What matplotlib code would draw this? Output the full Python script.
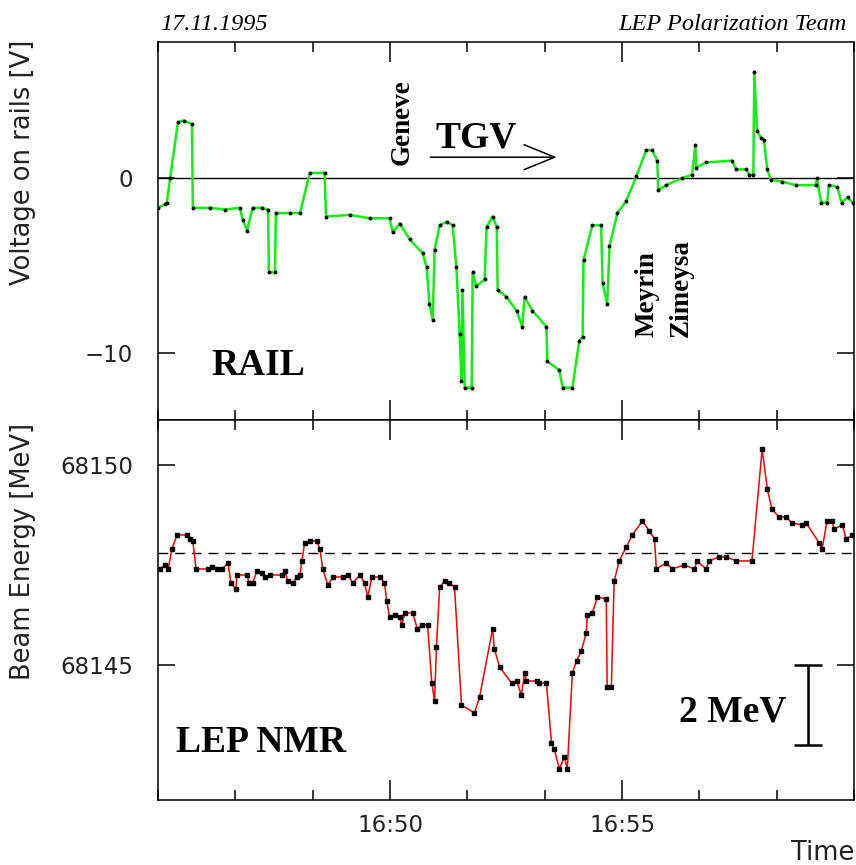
import matplotlib.pyplot as plt
from matplotlib.ticker import MultipleLocator, FixedLocator, NullLocator

# time in minutes after 16:45
rail_t = [0.00, 0.15, 0.19, 0.26, 0.43, 0.55, 0.73, 0.75, 1.12, 1.44, 1.76, 1.83, 1.92, 2.04,
          2.24, 2.37, 2.39, 2.52, 2.54, 2.84, 3.06, 3.27, 3.59, 3.62, 4.13, 4.56, 4.99, 5.06,
          5.21, 5.42, 5.70, 5.79, 5.85, 5.92, 5.96, 6.07, 6.22, 6.35, 6.43, 6.50, 6.54, 6.56,
          6.61, 6.76, 6.78, 6.86, 7.04, 7.08, 7.21, 7.30, 7.32, 7.51, 7.73, 7.85, 7.90, 8.07,
          8.37, 8.39, 8.65, 8.72, 8.93, 9.08, 9.15, 9.17, 9.36, 9.55, 9.58, 9.68, 9.73, 9.90,
          10.09, 10.31, 10.52, 10.65, 10.76, 10.78, 10.95, 11.30, 11.51, 11.58, 11.60, 11.81,
          12.37, 12.46, 12.68, 12.74, 12.83, 12.85, 12.91, 13.00, 13.06, 13.13, 13.21, 13.45,
          13.75, 14.18, 14.20, 14.29, 14.42, 14.46, 14.64, 14.73, 14.86, 14.97]
rail_v = [-1.7, -1.5, -1.4, 0.0, 3.2, 3.3, 3.1, -1.7, -1.7, -1.8, -1.7, -2.4, -3.0, -1.7,
          -1.7, -1.8, -5.4, -5.4, -2.0, -2.0, -2.0, 0.3, 0.3, -2.2, -2.1, -2.3, -2.3, -3.1,
          -2.6, -3.5, -4.3, -5.1, -7.2, -8.1, -4.1, -2.7, -2.5, -2.7, -5.1, -8.9, -11.6, -6.4,
          -12.0, -12.0, -5.4, -6.2, -5.8, -2.8, -2.2, -2.8, -6.4, -6.8, -7.6, -8.5, -6.8, -7.6,
          -8.5, -10.5, -11.0, -12.0, -12.0, -9.3, -9.1, -4.7, -2.7, -2.7, -6.0, -7.2, -3.9, -2.0,
          -1.3, 0.1, 1.6, 1.6, 1.0, -0.7, -0.4, 0.0, 0.2, 1.9, 0.6, 0.9,
          1.0, 0.5, 0.5, 0.2, 0.2, 6.1, 2.7, 2.3, 2.2, 0.5, -0.1, -0.2,
          -0.4, -0.4, 0.0, -1.4, -1.4, -0.4, -0.5, -1.4, -1.1, -1.4]

nmr_t = [0.04, 0.15, 0.22, 0.30, 0.41, 0.62, 0.69, 0.75, 0.82, 1.08, 1.16, 1.27, 1.38, 1.51,
         1.57, 1.68, 1.70, 1.92, 1.96, 2.04, 2.13, 2.24, 2.30, 2.41, 2.67, 2.73, 2.80, 2.91,
         2.99, 3.06, 3.10, 3.16, 3.27, 3.42, 3.49, 3.55, 3.66, 3.77, 3.98, 4.09, 4.20, 4.35,
         4.45, 4.52, 4.61, 4.78, 4.88, 4.93, 4.99, 5.10, 5.21, 5.25, 5.32, 5.49, 5.59, 5.68,
         5.81, 5.90, 5.96, 6.00, 6.07, 6.18, 6.28, 6.39, 6.54, 6.82, 6.93, 7.21, 7.25, 7.36,
         7.62, 7.73, 7.83, 7.90, 7.94, 8.16, 8.22, 8.37, 8.48, 8.54, 8.65, 8.76, 8.82, 8.93,
         9.02, 9.12, 9.23, 9.25, 9.36, 9.47, 9.66, 9.68, 9.77, 9.83, 9.94, 10.09, 10.22, 10.44,
         10.59, 10.70, 10.74, 10.95, 11.08, 11.34, 11.56, 11.62, 11.81, 11.88, 12.09, 12.25,
         12.46, 12.80, 13.02, 13.13, 13.23, 13.38, 13.54, 13.66, 13.88, 13.97, 14.25, 14.31,
         14.42, 14.53, 14.57, 14.75, 14.83, 14.96]
nmr_e = [68147.4, 68147.5, 68147.4, 68147.9, 68148.25, 68148.25, 68148.15, 68148.1, 68147.4,
         68147.4, 68147.45, 68147.4, 68147.4, 68147.55, 68147.05, 68146.9, 68147.25, 68147.25,
         68147.05, 68147.05, 68147.35, 68147.3, 68147.2, 68147.25, 68147.25, 68147.35, 68147.1,
         68147.05, 68147.2, 68147.25, 68147.6, 68148.05, 68148.1, 68148.1, 68147.9, 68147.4,
         68147.0, 68147.2, 68147.2, 68147.25, 68147.05, 68147.25, 68147.05, 68146.7, 68147.2,
         68147.2, 68147.05, 68146.6, 68146.2, 68146.25, 68146.2, 68146.0, 68146.3, 68146.3,
         68145.9, 68146.0, 68146.0, 68144.55, 68144.1, 68145.45, 68146.95, 68147.1, 68147.05,
         68146.95, 68144.0, 68143.8, 68144.2, 68145.9, 68145.4, 68144.95, 68144.55, 68144.6,
         68144.25, 68144.8, 68144.6, 68144.6, 68144.55, 68144.55, 68143.05, 68142.9, 68142.4,
         68142.7, 68142.4, 68144.8, 68145.1, 68145.35, 68145.8, 68146.25, 68146.3, 68146.7,
         68146.65, 68144.45, 68144.45, 68147.1, 68147.6, 68147.95, 68148.25, 68148.6, 68148.35,
         68148.15, 68147.4, 68147.55, 68147.4, 68147.5, 68147.4, 68147.6, 68147.4, 68147.6,
         68147.7, 68147.7, 68147.6, 68147.6, 68150.4, 68149.4, 68148.9, 68148.7, 68148.7,
         68148.55, 68148.5, 68148.55, 68148.05, 68147.9, 68148.6, 68148.6, 68148.4, 68148.5,
         68148.15, 68148.25]

e_ref = 68147.81
time_ticks = [5, 10]
time_labels = ['16:50', '16:55']
rail_ticks = [-10, 0]
nmr_ticks = [68145, 68150]

plt.rcParams['font.family'] = 'DejaVu Sans'
serif = 'Liberation Serif'
grey = '#222222'

fig = plt.figure(figsize=(8.56, 8.65), dpi=100)
ax1 = fig.add_axes([0.1846, 0.5145, 0.8131, 0.4370])
ax2 = fig.add_axes([0.1846, 0.0751, 0.8131, 0.4394])


def style_axis(ax, yticks, ylabels):
    ax.set_xlim(0, 15)
    ax.xaxis.set_major_locator(FixedLocator(time_ticks))
    ax.xaxis.set_minor_locator(MultipleLocator(5 / 3))
    ax.yaxis.set_minor_locator(NullLocator())
    ax.set_yticks(yticks, ylabels)
    ax.tick_params(which='both', direction='in', top=True, right=True, width=1.1,
                   labelsize=16.5, labelcolor=grey)
    ax.tick_params(axis='x', which='major', length=14.5, pad=10)
    ax.tick_params(axis='x', which='minor', length=7.5)
    ax.tick_params(axis='y', which='major', length=12.5, pad=18)
    for s in ax.spines.values():
        s.set_linewidth(1.1)


# RAIL panel
ax1.axhline(0, color='black', lw=1.0, zorder=1)
ax1.plot(rail_t, rail_v, color='#11ee11', lw=1.8, zorder=2)
ax1.plot(rail_t, rail_v, ls='none', marker='o', ms=1.8, color='black', zorder=3)
ax1.set_ylim(-13.85, 7.8)
style_axis(ax1, rail_ticks, ['\u221210', '0'])
ax1.tick_params(axis='x', labelbottom=False)

ax1.text(5.27, 3.2, 'Geneve', family=serif, weight='bold', fontsize=19.5,
         rotation=90, ha='center', va='center')
ax1.annotate('', xy=(8.65, 1.2), xytext=(5.81, 1.2),
             arrowprops=dict(arrowstyle='->,head_length=2.2,head_width=0.9', lw=1.1, color='black'))
ax1.text(5.98, 1.77, 'TGV', family=serif, weight='bold', fontsize=27, va='baseline')
ax1.text(10.54, -9.1, 'Meyrin', family=serif, weight='bold', fontsize=19.5,
         rotation=90, ha='center', va='bottom')
ax1.text(11.28, -9.1, 'Zimeysa', family=serif, weight='bold', fontsize=19.5,
         rotation=90, ha='center', va='bottom')
ax1.text(1.16, -11.28, 'RAIL', family=serif, weight='bold', fontsize=27, va='baseline')

# NMR panel
ax2.axhline(e_ref, color='black', lw=1.0, ls=(0, (7, 5)), zorder=1)
ax2.plot(nmr_t, nmr_e, color='red', lw=1.1, zorder=2)
ax2.plot(nmr_t, nmr_e, ls='none', marker='s', ms=2.6, color='black', zorder=3)
ax2.set_ylim(68141.625, 68151.125)
style_axis(ax2, nmr_ticks, [str(v) for v in nmr_ticks])
ax2.set_xticklabels(time_labels)

ax2.errorbar(14.01, 68144, yerr=1, color='black', lw=1.8, capsize=10, capthick=1.8)
ax2.text(11.23, 68143.58, '2 MeV', family=serif, weight='bold', fontsize=27, va='baseline')
ax2.text(0.39, 68142.83, 'LEP NMR', family=serif, weight='bold', fontsize=27, va='baseline')

# labels and header
fig.text(0.027, 0.954, 'Voltage on rails [V]', rotation=90, ha='center', va='top',
         fontsize=18.5, color=grey)
fig.text(0.027, 0.511, 'Beam Energy [MeV]', rotation=90, ha='center', va='top',
         fontsize=18.5, color=grey)
fig.text(0.998, 0.006, 'Time', ha='right', va='baseline', fontsize=18.5, color=grey)
fig.text(0.187, 0.965, '17.11.1995', family=serif, style='italic', fontsize=17.5)
fig.text(0.9895, 0.965, 'LEP Polarization Team', family=serif, style='italic',
         fontsize=17.5, ha='right')

fig.savefig('out.png', dpi=100)
